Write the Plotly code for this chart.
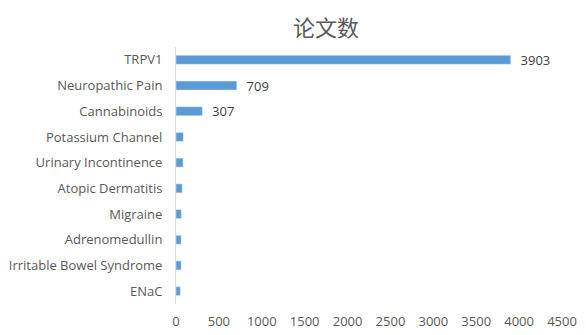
import plotly.graph_objects as go

categories = ["TRPV1", "Neuropathic Pain", "Cannabinoids", "Potassium Channel",
              "Urinary Incontinence", "Atopic Dermatitis", "Migraine",
              "Adrenomedullin", "Irritable Bowel Syndrome", "ENaC"]
values = [3903, 709, 307, 85, 83, 72, 62, 60, 60, 50]
labels = ["  3903", "  709", "  307", "", "", "", "", "", "", ""]
tick_vals = [0, 500, 1000, 1500, 2000, 2500, 3000, 3500, 4000, 4500]

fig = go.Figure(go.Bar(
    y=categories, x=values, orientation="h",
    marker_color="#5B9BD5",
    text=labels, textposition="outside", cliponaxis=False, constraintext="none",
    textfont=dict(size=13, color="#404040"),
))
fig.update_layout(
    width=586, height=335,
    margin=dict(l=176, r=24, t=47, b=31, autoexpand=False),
    paper_bgcolor="white", plot_bgcolor="white",
    font=dict(family="Open Sans", color="#595959"),
    title=dict(text="论文数", x=326 / 586, xanchor="center", y=1 - 28 / 335, yanchor="middle",
               xref="container", yref="container",
               font=dict(family="Noto Sans CJK SC", size=22, color="#595959")),
    bargap=0.65,
    showlegend=False,
)
fig.update_yaxes(autorange="reversed", showline=True, linecolor="#D9D9D9", linewidth=1,
                 automargin=False,
                 ticks="", tickfont=dict(size=13, color="#595959"), ticklabelstandoff=10)
fig.update_xaxes(range=[0, 4500], tickvals=tick_vals, showgrid=False, zeroline=False,
                 automargin=False,
                 showline=False, tickfont=dict(size=13, color="#595959"), ticklabelstandoff=8)
fig.write_html("out.html")
